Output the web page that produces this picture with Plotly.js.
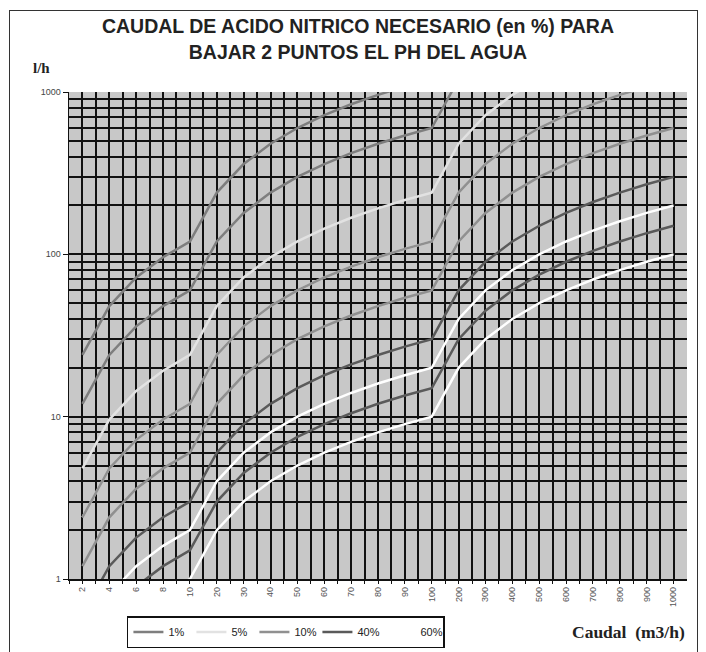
<!DOCTYPE html>
<html>
<head>
<meta charset="utf-8">
<script src="https://cdn.plot.ly/plotly-3.0.1.min.js"></script>
<style>
  html, body { margin: 0; padding: 0; background: #fff; }
  #wrap { position: relative; width: 706px; height: 652px; overflow: hidden; }
  #chart { width: 706px; height: 652px; }
  #frame { position: absolute; left: 9px; top: 10px; width: 687px; height: 660px;
           border: 1.5px solid #333; pointer-events: none; }
</style>
</head>
<body>
<div id="wrap">
  <div id="chart"></div>
  <div id="frame"></div>
</div>
<script>
// Caudal (m3/h) categories
const categories = ["2","4","6","8","10","20","30","40","50","60","70","80","90","100",
                    "200","300","400","500","600","700","800","900","1000"];

// Acid flow (l/h), two curves per concentration
const s1_a  = [12,24,36,48,60,120,180,240,300,360,420,480,540,600,1200,1800,2400,3000,3600,4200,4800,5400,6000];
const s1_b  = [24,48,72,96,120,240,360,480,600,720,840,960,1080,1200,2400,3600,4800,6000,7200,8400,9600,10800,12000];
const s5_a  = [2.4,4.8,7.2,9.6,12,24,36,48,60,72,84,96,108,120,240,360,480,600,720,840,960,1080,1200];
const s5_b  = [4.8,9.6,14.4,19.2,24,48,72,96,120,144,168,192,216,240,480,720,960,1200,1440,1680,1920,2160,2400];
const s10_a = [1.2,2.4,3.6,4.8,6,12,18,24,30,36,42,48,54,60,120,180,240,300,360,420,480,540,600];
const s10_b = [2.4,4.8,7.2,9.6,12,24,36,48,60,72,84,96,108,120,240,360,480,600,720,840,960,1080,1200];
const s40_a = [0.3,0.6,0.9,1.2,1.5,3,4.5,6,7.5,9,10.5,12,13.5,15,30,45,60,75,90,105,120,135,150];
const s40_b = [0.6,1.2,1.8,2.4,3,6,9,12,15,18,21,24,27,30,60,90,120,150,180,210,240,270,300];
const s60_a = [0.2,0.4,0.6,0.8,1,2,3,4,5,6,7,8,9,10,20,30,40,50,60,70,80,90,100];
const s60_b = [0.4,0.8,1.2,1.6,2,4,6,8,10,12,14,16,18,20,40,60,80,100,120,140,160,180,200];

const seriesNames = ["1%","5%","10%","40%","60%"];
const seriesData  = [[s1_a,s1_b],[s5_a,s5_b],[s10_a,s10_b],[s40_a,s40_b],[s60_a,s60_b]];
const seriesColors = ["#7e7e7e","#e2e2e2","#909090","#5a5a5a","#ffffff"];

const yTickVals = [1,10,100,1000];
const yTickLabels = ["1","10","100","1000"];

const xpos = categories.map((c, i) => i);
const xBetween = [-0.5].concat(xpos.slice(0, -1).map(i => i + 0.5));

const traces = [];
seriesNames.forEach((name, si) => {
  seriesData[si].forEach((vals, k) => {
    traces.push({
      type: "scatter", mode: "lines",
      x: xpos, y: vals,
      name: name, legendgroup: name, showlegend: k === 0,
      line: { color: seriesColors[si], width: 2.5 },
      hoverinfo: "skip"
    });
  });
});

const layout = {
  width: 706, height: 652,
  margin: { l: 69, r: 19, t: 92, b: 73, autoexpand: false },
  paper_bgcolor: "#ffffff",
  plot_bgcolor: "#c8c8c8",
  font: { family: "Liberation Sans, Arial, sans-serif", color: "#222" },
  title: {
    text: "CAUDAL DE ACIDO NITRICO NECESARIO (en %) PARA<br>BAJAR 2 PUNTOS EL PH DEL AGUA",
    font: { family: "Liberation Sans, Arial, sans-serif", size: 19.5, weight: "bold", color: "#222" },
    xref: "container", x: 0.507, xanchor: "center",
    yref: "container", y: 0.949, yanchor: "middle"
  },
  xaxis: {
    range: [-0.5, 22.5],
    tickmode: "array", tickvals: xpos, ticktext: categories,
    tickangle: -90, tickfont: { size: 9, color: "#555" },
    showgrid: true, gridcolor: "#111", gridwidth: 2,
    minor: { tickmode: "array", tickvals: xBetween, showgrid: true, gridcolor: "#111", gridwidth: 2,
             ticks: "outside", ticklen: 3, tickcolor: "#111" },
    ticks: "outside", ticklen: 3, tickcolor: "#111",
    showline: true, linecolor: "#111", linewidth: 1.5,
    zeroline: false, fixedrange: true
  },
  yaxis: {
    type: "log", range: [0, 3],
    tickmode: "array", tickvals: yTickVals, ticktext: yTickLabels,
    tickfont: { size: 9, color: "#444" },
    showgrid: true, gridcolor: "#111", gridwidth: 2,
    minor: { dtick: "D1", showgrid: true, gridcolor: "#111", gridwidth: 2 },
    ticks: "outside", ticklen: 5, tickcolor: "#111",
    showline: true, linecolor: "#111", linewidth: 1.5,
    zeroline: false, fixedrange: true
  },
  showlegend: true,
  legend: {
    orientation: "h",
    x: 0.351, xanchor: "center",
    y: -0.109, yanchor: "middle",
    bgcolor: "#ffffff", bordercolor: "#111", borderwidth: 1.5,
    font: { size: 11, color: "#222", family: "Liberation Sans, Arial, sans-serif" },
    itemwidth: 30, entrywidth: 18, entrywidthmode: "pixels", traceorder: "normal"
  },
  annotations: [
    { text: "l/h", xref: "paper", yref: "paper", x: -0.044, y: 1.049, xanchor: "center", yanchor: "middle",
      showarrow: false, font: { family: "Liberation Serif, Times New Roman, serif", size: 15, weight: "bold", color: "#222" } },
    { text: "Caudal  (m3/h)", xref: "paper", yref: "paper", x: 0.905, y: -0.109, xanchor: "center", yanchor: "middle",
      showarrow: false, font: { family: "Liberation Serif, Times New Roman, serif", size: 17.5, weight: "bold", color: "#222" } }
  ]
};

Plotly.newPlot("chart", traces, layout, { displayModeBar: false, staticPlot: true });
</script>
</body>
</html>
